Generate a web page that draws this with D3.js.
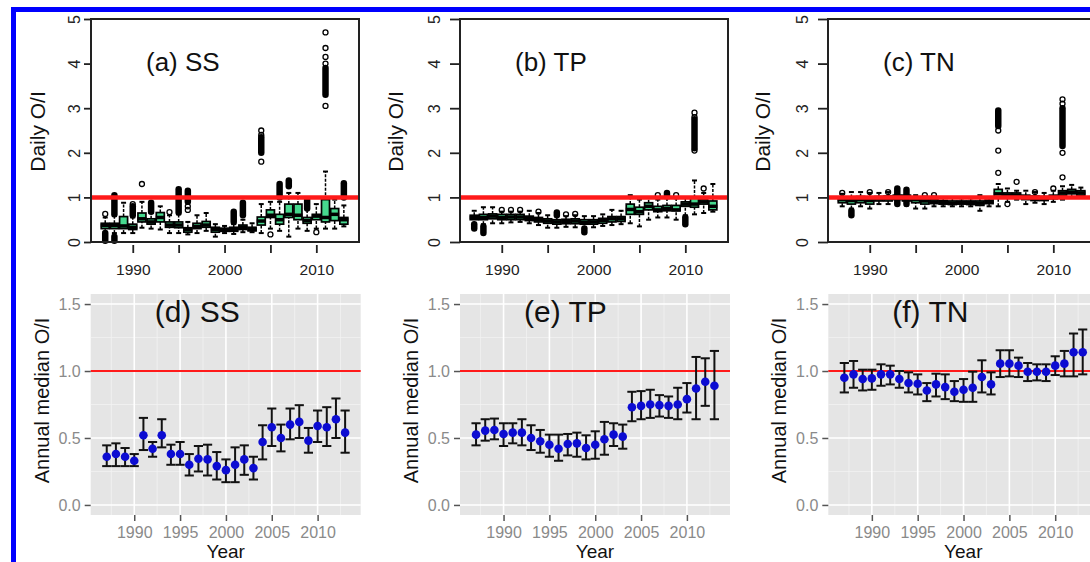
<!DOCTYPE html>
<html>
<head>
<meta charset="utf-8">
<script src="https://cdn.jsdelivr.net/npm/d3@7/dist/d3.min.js"></script>
<style>
  html, body { margin: 0; padding: 0; background: #fff; }
  svg { display: block; font-family: "Liberation Sans", Arial, sans-serif; }
</style>
</head>
<body>
<svg id="chart" width="1090" height="562"></svg>
<script>
// ---- data -------------------------------------------------------------
const years = [1987, 1988, 1989, 1990, 1991, 1992, 1993, 1994, 1995, 1996,
  1997, 1998, 1999, 2000, 2001, 2002, 2003, 2004, 2005, 2006,
  2007, 2008, 2009, 2010, 2011, 2012, 2013]

const topTicks = [1990, 1995, 2000, 2005, 2010]
const topTickLabels = [1990, 2000, 2010]
const topYTicks = [0, 1, 2, 3, 4, 5]
const bottomTicks = [1990, 1995, 2000, 2005, 2010]
const bottomMinorX = [1987.5, 1992.5, 1997.5, 2002.5, 2007.5, 2012.5]
const bottomYTicks = [0, 0.5, 1, 1.5]
const bottomMinorY = [0.25, 0.75, 1.25]
const refLine = 1

// daily O/I boxplots: [whisker low, q1, median, q3, whisker high]
const ssBoxes = [
  [0.22, 0.30, 0.37, 0.42, 0.55], [0.20, 0.30, 0.37, 0.42, 0.58], [0.20, 0.30, 0.36, 0.57, 0.88],
  [0.20, 0.28, 0.33, 0.40, 0.55], [0.32, 0.45, 0.52, 0.65, 0.90], [0.30, 0.40, 0.45, 0.52, 0.65],
  [0.28, 0.45, 0.55, 0.66, 0.80], [0.20, 0.33, 0.38, 0.45, 0.60], [0.20, 0.32, 0.38, 0.45, 0.62],
  [0.17, 0.22, 0.28, 0.32, 0.45], [0.20, 0.30, 0.35, 0.42, 0.60], [0.25, 0.33, 0.38, 0.46, 0.65],
  [0.12, 0.22, 0.28, 0.33, 0.40], [0.20, 0.24, 0.27, 0.31, 0.36], [0.18, 0.24, 0.28, 0.33, 0.40],
  [0.22, 0.28, 0.33, 0.38, 0.50], [0.22, 0.25, 0.28, 0.33, 0.42], [0.20, 0.38, 0.47, 0.56, 0.85],
  [0.30, 0.55, 0.60, 0.72, 0.90], [0.25, 0.40, 0.50, 0.62, 0.90], [0.12, 0.55, 0.62, 0.85, 1.10],
  [0.30, 0.50, 0.60, 0.85, 1.10], [0.25, 0.42, 0.48, 0.55, 0.75], [0.30, 0.50, 0.58, 0.62, 0.85],
  [0.30, 0.45, 0.55, 0.95, 1.58], [0.30, 0.48, 0.62, 0.75, 0.95], [0.35, 0.40, 0.50, 0.55, 0.82]
]
const ssOutliers = [
  [1987, 0.63], [1990, 0.85], [1991, 1.30], [1994, 0.67], [1996, 0.72], [1996, 0.80],
  [2004, 1.80], [2004, 2.40], [2004, 2.50], [2005, 0.17], [2010, 0.22],
  [2011, 3.05], [2011, 4.00], [2011, 4.15], [2011, 4.35], [2011, 4.70]
]
// runs of overlapping outlier circles: [year, from, to]
const ssBands = [
  [1987, 0.03, 0.20], [1988, 0.62, 1.05], [1988, 0.03, 0.12], [1990, 0.60, 0.80],
  [1992, 0.68, 0.88], [1995, 0.66, 1.18], [1996, 0.90, 1.15], [2001, 0.45, 0.68],
  [2002, 0.60, 0.88], [2004, 2.00, 2.35], [2006, 1.00, 1.30], [2007, 1.25, 1.38],
  [2009, 0.75, 0.95], [2011, 3.30, 3.90], [2013, 1.00, 1.32]
]

const tpBoxes = [
  [0.40, 0.50, 0.55, 0.60, 0.70], [0.40, 0.50, 0.55, 0.62, 0.78], [0.42, 0.52, 0.58, 0.63, 0.78],
  [0.42, 0.50, 0.55, 0.62, 0.68], [0.44, 0.50, 0.56, 0.62, 0.68], [0.45, 0.50, 0.56, 0.62, 0.68],
  [0.42, 0.48, 0.53, 0.58, 0.70], [0.38, 0.45, 0.50, 0.55, 0.65], [0.32, 0.42, 0.47, 0.52, 0.60],
  [0.32, 0.40, 0.45, 0.50, 0.58], [0.34, 0.41, 0.46, 0.51, 0.58], [0.33, 0.41, 0.47, 0.52, 0.60],
  [0.30, 0.40, 0.44, 0.50, 0.58], [0.33, 0.40, 0.45, 0.50, 0.58], [0.36, 0.42, 0.48, 0.53, 0.62],
  [0.38, 0.45, 0.52, 0.57, 0.72], [0.40, 0.46, 0.52, 0.57, 0.70], [0.42, 0.62, 0.73, 0.85, 1.05],
  [0.35, 0.62, 0.68, 0.78, 0.95], [0.50, 0.72, 0.80, 0.88, 1.00], [0.55, 0.68, 0.72, 0.80, 0.95],
  [0.55, 0.70, 0.75, 0.82, 0.98], [0.50, 0.70, 0.72, 0.82, 0.98], [0.60, 0.80, 0.85, 0.90, 1.00],
  [0.62, 0.78, 0.85, 1.00, 1.38], [0.65, 0.85, 0.90, 0.95, 1.10], [0.68, 0.72, 0.80, 0.92, 1.30]
]
const tpOutliers = [
  [1990, 0.72], [1991, 0.72], [1992, 0.72], [1994, 0.68], [1997, 0.62], [1998, 0.63],
  [2007, 1.05], [2009, 1.05], [2011, 2.05], [2011, 2.80], [2011, 2.90], [2012, 1.20]
]
const tpBands = [
  [1987, 0.30, 0.40], [1988, 0.20, 0.35], [1996, 0.60, 0.66], [1999, 0.22, 0.30],
  [2008, 1.05, 1.10], [2010, 0.40, 0.55], [2011, 2.10, 2.75]
]

const tnBoxes = [
  [0.80, 0.88, 0.95, 1.00, 1.08], [0.75, 0.85, 0.93, 1.00, 1.12], [0.80, 0.88, 0.95, 1.02, 1.12],
  [0.75, 0.85, 0.93, 1.00, 1.10], [0.85, 0.92, 0.97, 1.02, 1.10], [0.85, 0.92, 0.98, 1.03, 1.12],
  [0.85, 0.95, 1.00, 1.05, 1.10], [0.82, 0.92, 1.00, 1.05, 1.10], [0.75, 0.88, 0.95, 1.00, 1.05],
  [0.75, 0.85, 0.92, 0.97, 1.02], [0.80, 0.86, 0.90, 0.95, 1.02], [0.80, 0.85, 0.88, 0.93, 1.00],
  [0.80, 0.84, 0.87, 0.92, 1.00], [0.80, 0.85, 0.88, 0.92, 0.98], [0.80, 0.84, 0.88, 0.92, 0.98],
  [0.70, 0.82, 0.87, 0.92, 1.05], [0.80, 0.86, 0.90, 0.94, 1.00], [0.80, 1.00, 1.08, 1.18, 1.30],
  [0.90, 1.00, 1.05, 1.10, 1.20], [0.95, 1.02, 1.05, 1.10, 1.15], [0.85, 0.95, 1.00, 1.05, 1.15],
  [0.88, 0.93, 0.98, 1.03, 1.12], [0.85, 0.93, 0.97, 1.02, 1.10], [0.90, 0.97, 1.00, 1.05, 1.15],
  [0.95, 1.05, 1.10, 1.15, 1.25], [1.00, 1.08, 1.12, 1.18, 1.28], [1.00, 1.05, 1.10, 1.15, 1.22]
]
const tnOutliers = [
  [1987, 1.10], [1990, 1.12], [1992, 1.12], [1996, 1.05], [1997, 1.05],
  [2004, 1.55], [2004, 2.05], [2004, 2.50], [2005, 0.85], [2006, 1.35], [2008, 1.12],
  [2010, 1.20], [2011, 1.45], [2011, 2.00], [2011, 3.10], [2011, 3.20]
]
const tnBands = [
  [1988, 0.60, 0.70], [1993, 0.85, 1.20], [1994, 0.85, 1.17], [2004, 2.60, 2.95], [2011, 2.15, 3.00]
]

// annual median O/I with interval
const ssMedian = [0.36, 0.38, 0.36, 0.33, 0.52, 0.42, 0.52, 0.38, 0.38, 0.30, 0.345, 0.34, 0.29, 0.26,
  0.30, 0.34, 0.275, 0.47, 0.58, 0.50, 0.60, 0.62, 0.48, 0.59, 0.58, 0.64, 0.54]
const ssLower = [0.29, 0.29, 0.29, 0.29, 0.41, 0.36, 0.43, 0.30, 0.30, 0.22, 0.25, 0.22, 0.19, 0.17,
  0.17, 0.225, 0.19, 0.34, 0.44, 0.40, 0.49, 0.50, 0.39, 0.47, 0.44, 0.50, 0.39]
const ssUpper = [0.445, 0.46, 0.425, 0.38, 0.65, 0.47, 0.64, 0.45, 0.47, 0.38, 0.44, 0.45, 0.395, 0.34,
  0.43, 0.445, 0.36, 0.595, 0.72, 0.60, 0.72, 0.745, 0.575, 0.705, 0.73, 0.795, 0.705]

const tpMedian = [0.525, 0.555, 0.56, 0.53, 0.54, 0.54, 0.50, 0.475, 0.45, 0.42, 0.455, 0.46, 0.425, 0.45,
  0.49, 0.525, 0.51, 0.73, 0.74, 0.75, 0.745, 0.74, 0.75, 0.79, 0.87, 0.92, 0.89]
const tpLower = [0.445, 0.48, 0.49, 0.44, 0.46, 0.445, 0.41, 0.39, 0.36, 0.33, 0.37, 0.36, 0.34, 0.345,
  0.375, 0.44, 0.42, 0.625, 0.64, 0.65, 0.66, 0.65, 0.64, 0.69, 0.64, 0.74, 0.64]
const tpUpper = [0.61, 0.64, 0.645, 0.61, 0.61, 0.64, 0.595, 0.56, 0.525, 0.525, 0.53, 0.54, 0.52, 0.55,
  0.62, 0.61, 0.60, 0.845, 0.85, 0.86, 0.82, 0.81, 0.875, 0.91, 1.105, 1.095, 1.15]

const tnMedian = [0.95, 0.975, 0.94, 0.945, 0.975, 0.975, 0.94, 0.91, 0.905, 0.855, 0.90, 0.88, 0.845, 0.86,
  0.875, 0.955, 0.90, 1.055, 1.055, 1.04, 0.995, 0.995, 0.995, 1.04, 1.055, 1.14, 1.14]
const tnLower = [0.84, 0.875, 0.855, 0.86, 0.89, 0.90, 0.875, 0.84, 0.825, 0.775, 0.81, 0.79, 0.775, 0.77,
  0.77, 0.84, 0.825, 0.955, 0.96, 0.955, 0.925, 0.93, 0.925, 0.97, 0.96, 0.96, 0.975]
const tnUpper = [1.06, 1.075, 1.01, 1.01, 1.05, 1.04, 1.00, 0.99, 0.975, 0.91, 0.98, 0.975, 0.925, 0.94,
  0.995, 1.08, 0.99, 1.155, 1.155, 1.10, 1.06, 1.05, 1.05, 1.11, 1.15, 1.28, 1.31]

// ---- layout -----------------------------------------------------------
const GREEN = '#46d88e'
const RED = '#ff1a1a'
const POINT = '#0c0cd2'

const svg = d3.select('#chart')

svg.append('rect')
  .attr('x', 13.5).attr('y', 9.5)
  .attr('width', 1200).attr('height', 700)
  .attr('fill', 'none').attr('stroke', '#0000ff').attr('stroke-width', 5)

const topPanels = [
  { title: '(a) SS', boxes: ssBoxes, outliers: ssOutliers, bands: ssBands,
    x0: 91, labelX: 38, tickLen: 7, tickLabelOff: 17 },
  { title: '(b) TP', boxes: tpBoxes, outliers: tpOutliers, bands: tpBands,
    x0: 460, labelX: 396, tickLen: 10, tickLabelOff: 26 },
  { title: '(c) TN', boxes: tnBoxes, outliers: tnOutliers, bands: tnBands,
    x0: 828, labelX: 763, tickLen: 10, tickLabelOff: 26 }
]

const TOP = { y0: 19, y1: 242, width: 268 }

topPanels.forEach(p => {
  const x = d3.scaleLinear().domain([1985.45, 2014.65]).range([p.x0, p.x0 + TOP.width])
  const y = d3.scaleLinear().domain([0, 5]).range([TOP.y1, TOP.y0])
  const g = svg.append('g')

  const boxW = 8
  const capW = 5

  const box = g.selectAll('g.box')
    .data(p.boxes.map((b, i) => ({ year: years[i], b })))
    .join('g')
    .attr('class', 'box')

  // whiskers
  box.append('line')
    .attr('x1', d => x(d.year)).attr('x2', d => x(d.year))
    .attr('y1', d => y(d.b[0])).attr('y2', d => y(d.b[1]))
    .attr('stroke', '#000').attr('stroke-width', 1.5).attr('stroke-dasharray', '3,1.5')
  box.append('line')
    .attr('x1', d => x(d.year)).attr('x2', d => x(d.year))
    .attr('y1', d => y(d.b[3])).attr('y2', d => y(d.b[4]))
    .attr('stroke', '#000').attr('stroke-width', 1.5).attr('stroke-dasharray', '3,1.5')
  // staples
  box.selectAll('line.cap')
    .data(d => [d.b[0], d.b[4]].map(v => ({ year: d.year, v })))
    .join('line')
    .attr('class', 'cap')
    .attr('x1', d => x(d.year) - capW / 2).attr('x2', d => x(d.year) + capW / 2)
    .attr('y1', d => y(d.v)).attr('y2', d => y(d.v))
    .attr('stroke', '#000').attr('stroke-width', 2)
  // box
  box.append('rect')
    .attr('x', d => x(d.year) - boxW / 2)
    .attr('width', boxW)
    .attr('y', d => y(d.b[3]))
    .attr('height', d => y(d.b[1]) - y(d.b[3]))
    .attr('fill', GREEN).attr('stroke', '#000').attr('stroke-width', 1.7)
  // median
  box.append('line')
    .attr('x1', d => x(d.year) - boxW / 2 - 0.5).attr('x2', d => x(d.year) + boxW / 2 + 0.5)
    .attr('y1', d => y(d.b[2])).attr('y2', d => y(d.b[2]))
    .attr('stroke', '#000').attr('stroke-width', 3.5)

  // dense outlier runs
  g.selectAll('line.band')
    .data(p.bands)
    .join('line')
    .attr('class', 'band')
    .attr('x1', d => x(d[0])).attr('x2', d => x(d[0]))
    .attr('y1', d => y(d[1])).attr('y2', d => y(d[2]))
    .attr('stroke', '#000').attr('stroke-width', 6.5).attr('stroke-linecap', 'round')

  // single outliers
  g.selectAll('circle.out')
    .data(p.outliers)
    .join('circle')
    .attr('class', 'out')
    .attr('cx', d => x(d[0])).attr('cy', d => y(d[1]))
    .attr('r', 2.5)
    .attr('fill', 'none').attr('stroke', '#000').attr('stroke-width', 1.3)

  // reference line
  g.append('line')
    .attr('x1', x.range()[0]).attr('x2', x.range()[1])
    .attr('y1', y(refLine)).attr('y2', y(refLine))
    .attr('stroke', RED).attr('stroke-width', 4.5)

  // frame
  g.append('rect')
    .attr('x', x.range()[0]).attr('y', TOP.y0)
    .attr('width', TOP.width).attr('height', TOP.y1 - TOP.y0)
    .attr('fill', 'none').attr('stroke', '#222').attr('stroke-width', 2)

  // y axis
  const yAxis = g.append('g')
    .attr('transform', `translate(${p.x0},0)`)
    .call(d3.axisLeft(y).tickValues(topYTicks).tickSize(p.tickLen).tickSizeOuter(0)
      .tickFormat(d3.format('d')))
  yAxis.select('.domain').remove()
  yAxis.selectAll('.tick line').attr('stroke', '#222').attr('stroke-width', 1.8)
  yAxis.selectAll('.tick text')
    .attr('x', 0).attr('y', -p.tickLabelOff).attr('dy', '0.36em')
    .attr('transform', 'rotate(-90)')
    .attr('text-anchor', 'middle')
    .attr('font-size', 16).attr('fill', '#222')

  // x axis
  const xAxis = g.append('g')
    .attr('transform', `translate(0,${TOP.y1 + 3})`)
    .call(d3.axisBottom(x).tickValues(topTicks).tickSize(8)
      .tickFormat(d => topTickLabels.includes(d) ? d : ''))
  xAxis.select('.domain').remove()
  xAxis.selectAll('.tick line').attr('stroke', '#222').attr('stroke-width', 1.8)
  xAxis.selectAll('.tick text')
    .attr('y', 19).attr('dy', '0.71em')
    .attr('font-size', 15.5).attr('fill', '#222')

  g.append('text')
    .attr('transform', `translate(${p.labelX},${(TOP.y0 + TOP.y1) / 2 + 1}) rotate(-90)`)
    .attr('text-anchor', 'middle').attr('dy', '0.35em')
    .attr('font-size', 21).attr('fill', '#111')
    .text('Daily O/I')

  g.append('text')
    .attr('x', p.x0 + 55).attr('y', 71)
    .attr('font-size', 26).attr('fill', '#111')
    .text(p.title)
})

// ---- bottom row: annual medians ----------------------------------------
const bottomPanels = [
  { title: '(d) SS', median: ssMedian, lower: ssLower, upper: ssUpper, x0: 90.7 },
  { title: '(e) TP', median: tpMedian, lower: tpLower, upper: tpUpper, x0: 460 },
  { title: '(f) TN', median: tnMedian, lower: tnLower, upper: tnUpper, x0: 828.3 }
]

const BOT = { y0: 294, y1: 515, width: 270 }

bottomPanels.forEach(p => {
  const x = d3.scaleLinear().domain([1985.25, 2014.7]).range([p.x0, p.x0 + BOT.width])
  const y = d3.scaleLinear().domain([-0.075, 1.575]).range([BOT.y1, BOT.y0])
  const g = svg.append('g')

  g.append('rect')
    .attr('x', p.x0).attr('y', BOT.y0)
    .attr('width', BOT.width).attr('height', BOT.y1 - BOT.y0)
    .attr('fill', '#e5e5e5')

  g.selectAll('line.minx').data(bottomMinorX).join('line')
    .attr('x1', d => x(d)).attr('x2', d => x(d))
    .attr('y1', BOT.y0).attr('y2', BOT.y1)
    .attr('stroke', '#f2f2f2').attr('stroke-width', 0.8)
  g.selectAll('line.miny').data(bottomMinorY).join('line')
    .attr('x1', p.x0).attr('x2', p.x0 + BOT.width)
    .attr('y1', d => y(d)).attr('y2', d => y(d))
    .attr('stroke', '#f2f2f2').attr('stroke-width', 0.8)
  g.selectAll('line.majx').data(bottomTicks).join('line')
    .attr('x1', d => x(d)).attr('x2', d => x(d))
    .attr('y1', BOT.y0).attr('y2', BOT.y1)
    .attr('stroke', '#fff').attr('stroke-width', 1.6)
  g.selectAll('line.majy').data(bottomYTicks).join('line')
    .attr('x1', p.x0).attr('x2', p.x0 + BOT.width)
    .attr('y1', d => y(d)).attr('y2', d => y(d))
    .attr('stroke', '#fff').attr('stroke-width', 1.6)

  g.append('line')
    .attr('x1', p.x0).attr('x2', p.x0 + BOT.width)
    .attr('y1', y(refLine)).attr('y2', y(refLine))
    .attr('stroke', RED).attr('stroke-width', 2.2)

  const pts = years.map((yr, i) => ({ yr, m: p.median[i], lo: p.lower[i], hi: p.upper[i] }))
  const capHalf = 0.5

  const eb = g.selectAll('g.eb').data(pts).join('g').attr('class', 'eb')
    .attr('stroke', '#111').attr('stroke-width', 2)
  eb.append('line')
    .attr('x1', d => x(d.yr)).attr('x2', d => x(d.yr))
    .attr('y1', d => y(d.lo)).attr('y2', d => y(d.hi))
  eb.append('line')
    .attr('x1', d => x(d.yr - capHalf)).attr('x2', d => x(d.yr + capHalf))
    .attr('y1', d => y(d.lo)).attr('y2', d => y(d.lo))
  eb.append('line')
    .attr('x1', d => x(d.yr - capHalf)).attr('x2', d => x(d.yr + capHalf))
    .attr('y1', d => y(d.hi)).attr('y2', d => y(d.hi))

  g.selectAll('circle.pt').data(pts).join('circle')
    .attr('class', 'pt')
    .attr('cx', d => x(d.yr)).attr('cy', d => y(d.m))
    .attr('r', 4.3).attr('fill', POINT)

  const yAxis = g.append('g')
    .attr('transform', `translate(${p.x0},0)`)
    .call(d3.axisLeft(y).tickValues(bottomYTicks).tickSize(6).tickPadding(4)
      .tickFormat(d3.format('.1f')))
  yAxis.select('.domain').remove()
  yAxis.selectAll('.tick line').attr('stroke', '#555').attr('stroke-width', 1.5)
  yAxis.selectAll('.tick text').attr('font-size', 16).attr('fill', '#8a8a8a')

  const xAxis = g.append('g')
    .attr('transform', `translate(0,${BOT.y1})`)
    .call(d3.axisBottom(x).tickValues(bottomTicks).tickSize(6).tickFormat(d3.format('d')))
  xAxis.select('.domain').remove()
  xAxis.selectAll('.tick line').attr('stroke', '#555').attr('stroke-width', 1.5)
  xAxis.selectAll('.tick text')
    .attr('y', 12).attr('dy', '0.71em')
    .attr('font-size', 16).attr('fill', '#8a8a8a')

  g.append('text')
    .attr('x', p.x0 + BOT.width / 2).attr('y', 558)
    .attr('text-anchor', 'middle')
    .attr('font-size', 19).attr('fill', '#111')
    .text('Year')

  g.append('text')
    .attr('transform', `translate(${p.x0 - 49},${(BOT.y0 + BOT.y1) / 2 - 4}) rotate(-90)`)
    .attr('text-anchor', 'middle').attr('dy', '0.35em')
    .attr('font-size', 20).attr('fill', '#111')
    .text('Annual median O/I')

  g.append('text')
    .attr('x', p.x0 + 64).attr('y', 322)
    .attr('font-size', 30).attr('fill', '#111')
    .text(p.title)
})
</script>
</body>
</html>
